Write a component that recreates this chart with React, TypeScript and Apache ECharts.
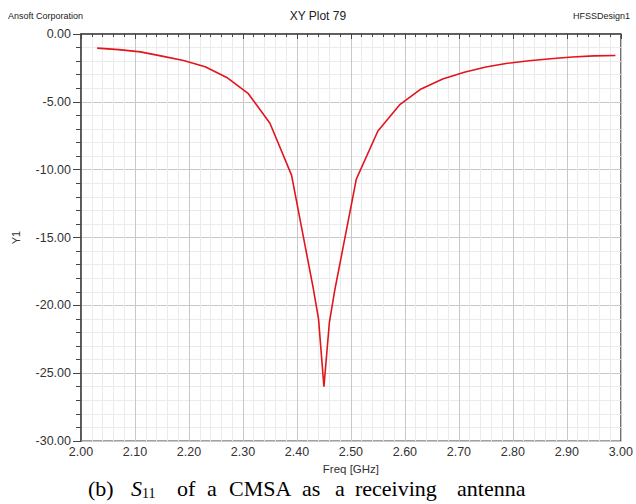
import React, { useEffect, useRef } from "react";
import * as echarts from "echarts";

const freqs = [2.03, 2.07, 2.11, 2.15, 2.19, 2.23, 2.27, 2.31, 2.35, 2.39, 2.43, 2.44, 2.45, 2.46, 2.47, 2.51, 2.55, 2.59, 2.63, 2.67, 2.71, 2.75, 2.79, 2.83, 2.87, 2.91, 2.95, 2.99];
const s11 = [-1.04, -1.15, -1.32, -1.63, -1.95, -2.41, -3.2, -4.4, -6.58, -10.4, -18.7, -21.0, -26.0, -21.3, -18.9, -10.7, -7.15, -5.23, -4.05, -3.32, -2.82, -2.43, -2.16, -1.97, -1.82, -1.69, -1.61, -1.58];
const xTicks = ["2.00", "2.10", "2.20", "2.30", "2.40", "2.50", "2.60", "2.70", "2.80", "2.90", "3.00"];
const yTicks = ["0.00", "-5.00", "-10.00", "-15.00", "-20.00", "-25.00", "-30.00"];
const captionWords = ["(b)", "S11", "of", "a", "CMSA", "as", "a", "receiving", "antenna"];
const captionX = [88, 131, 177, 207, 229, 302, 335, 355, 457];

export default function App() {
  const ref = useRef<HTMLDivElement>(null);
  useEffect(() => {
    if (!ref.current) return;
    const chart = echarts.init(ref.current, null, { renderer: "svg" });
    const font = "Arial, 'Liberation Sans', sans-serif";
    const caption = captionWords.map((w, i) => {
      if (w === "S11") {
        return {
          type: "text",
          left: captionX[i],
          top: 477,
          style: {
            text: "{s|S}{sub|11}",
            rich: {
              s: { fontFamily: "'Liberation Serif', serif", fontSize: 22, fontStyle: "italic", fill: "#000" },
              sub: { fontFamily: "'Liberation Serif', serif", fontSize: 14, fill: "#000", padding: [11, 0, 0, 0] },
            },
          },
        };
      }
      return {
        type: "text",
        left: captionX[i],
        top: 477,
        style: { text: w, fontFamily: "'Liberation Serif', serif", fontSize: 22, fill: "#000" },
      };
    });
    chart.setOption({
      animation: false,
      backgroundColor: "#fff",
      grid: { left: 81, right: 15, top: 34, bottom: 63, show: true, borderColor: "#444", borderWidth: 1.2, backgroundColor: "#fff" },
      xAxis: {
        type: "value",
        min: 2.0,
        max: 3.0,
        interval: 0.1,
        axisLine: { show: true, lineStyle: { color: "#444", width: 1.5 } },
        axisTick: { show: true, length: 5, lineStyle: { color: "#444" } },
        minorTick: { show: true, splitNumber: 5, length: 3, lineStyle: { color: "#444" } },
        splitLine: { show: true, lineStyle: { color: "#c8c8c8", width: 1 } },
        minorSplitLine: { show: true, lineStyle: { color: "#ebebeb", width: 1 } },
        axisLabel: {
          color: "#333",
          fontSize: 12.5,
          fontFamily: font,
          margin: 4,
          formatter: (v: number) => xTicks[Math.round((v - 2) * 10)] ?? "",
        },
        name: "Freq [GHz]",
        nameLocation: "middle",
        nameGap: 21,
        nameTextStyle: { color: "#333", fontSize: 11.5, fontFamily: font },
      },
      yAxis: {
        type: "value",
        min: -30,
        max: 0,
        interval: 5,
        axisLine: { show: true, onZero: false, lineStyle: { color: "#444", width: 1.5 } },
        axisTick: { show: true, length: 8, lineStyle: { color: "#444" } },
        minorTick: { show: true, splitNumber: 5, length: 5, lineStyle: { color: "#444" } },
        splitLine: { show: true, lineStyle: { color: "#c8c8c8", width: 1 } },
        minorSplitLine: { show: true, lineStyle: { color: "#ebebeb", width: 1 } },
        axisLabel: {
          color: "#333",
          fontSize: 12.5,
          fontFamily: font,
          margin: 10,
          formatter: (v: number) => yTicks[Math.round(-v / 5)] ?? "",
        },
        name: "Y1",
        nameLocation: "middle",
        nameGap: 60,
        nameTextStyle: { color: "#333", fontSize: 11, fontFamily: font },
      },
      series: [
        {
          type: "line",
          data: freqs.map((f, i) => [f, s11[i]]),
          showSymbol: false,
          symbol: "none",
          lineStyle: { color: "#e3141c", width: 1.6 },
        },
      ],
      graphic: [
        { type: "text", left: 8, top: 11, style: { text: "Ansoft Corporation", fontFamily: font, fontSize: 9, fill: "#222" } },
        { type: "text", left: "center", top: 10, style: { text: "XY Plot 79", fontFamily: font, fontSize: 12, fill: "#222" } },
        { type: "text", right: 6, top: 11, style: { text: "HFSSDesign1", fontFamily: font, fontSize: 9, fill: "#222" } },
        ...caption,
      ],
    });
    return () => chart.dispose();
  }, []);
  return <div ref={ref} style={{ position: "fixed", left: 0, top: 0, width: 636, height: 504 }} />;
}
